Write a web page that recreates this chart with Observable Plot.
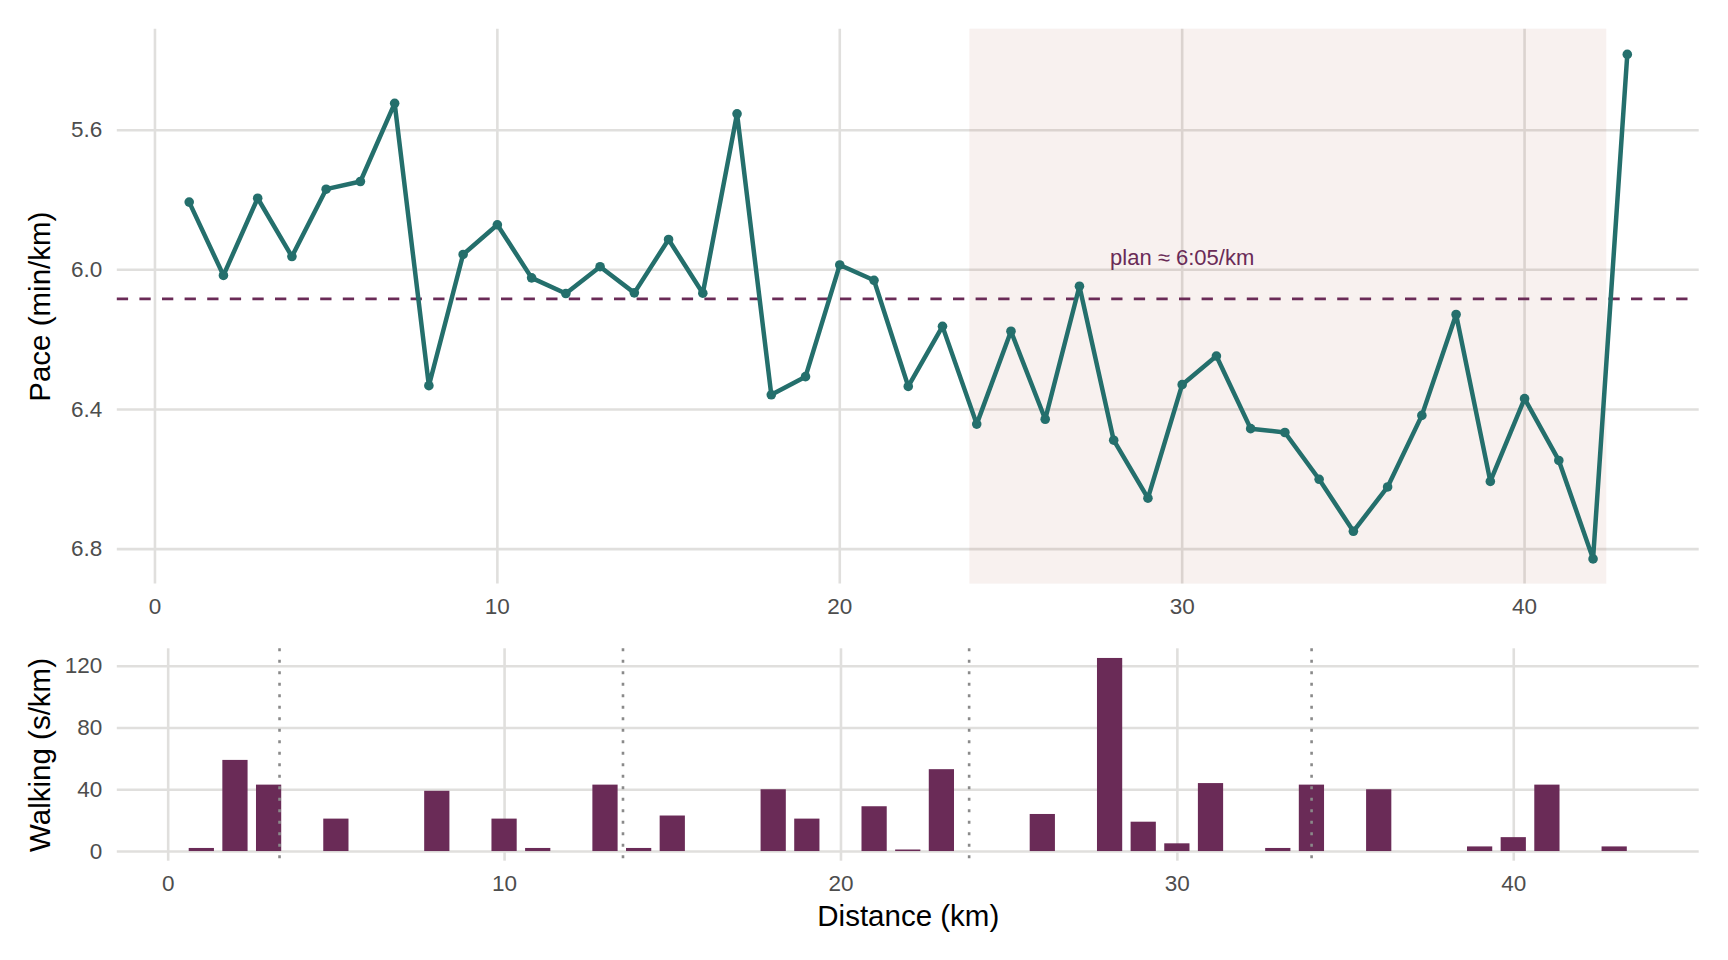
<!DOCTYPE html>
<html>
<head>
<meta charset="utf-8">
<script src="https://cdn.jsdelivr.net/npm/d3@7"></script>
<script src="https://cdn.jsdelivr.net/npm/@observablehq/plot@0.6"></script>
<style>
  html, body { margin: 0; padding: 0; background: #ffffff; }
  #chart svg { display: block; }
  #chart g[aria-label="x-axis tick label"],
  #chart g[aria-label="y-axis tick label"] { font-size: 22.5px; fill: #4d4d4d; }
</style>
</head>
<body>
<div id="chart"></div>
<script>
// ---- data ----
const km = [1,2,3,4,5,6,7,8,9,10,11,12,13,14,15,16,17,18,19,20,21,22,23,24,25,26,27,28,29,30,31,32,33,34,35,36,37,38,39,40,41,42,43];
const pace = [5.806,6.016,5.795,5.962,5.769,5.747,5.523,6.332,5.956,5.871,
              6.023,6.068,5.991,6.066,5.913,6.067,5.553,6.358,6.306,5.986,
              6.030,6.334,6.162,6.442,6.176,6.428,6.047,6.488,6.654,6.329,
              6.247,6.455,6.466,6.600,6.749,6.622,6.417,6.128,6.606,6.369,
              6.546,6.828,5.383];
const walking = [2,59,43,0,21,0,0,39,0,21,
                 2,0,43,2,23,0,0,40,21,0,
                 29,1,53,0,0,24,0,125,19,5,
                 44,0,2,43,0,40,0,0,3,9,
                 43,0,3];
const planPace = 6.0833;
const planLabel = "plan ≈ 6:05/km";
const planLabelKm = 30;
const planLabelPace = 5.965;
const shadeStart = 23.8;
const shadeEnd = 42.4;
const markerKm = [3.31, 13.52, 23.81, 33.99];
const barWidthKm = 0.75;
const xTicks = [0, 10, 20, 30, 40];
const paceTicks = [5.6, 6.0, 6.4, 6.8];
const walkTicks = [0, 40, 80, 120];
const paceTitle = "Pace (min/km)";
const walkTitle = "Walking (s/km)";
const distTitle = "Distance (km)";

// ---- derived tables ----
const rows = km.map((k, i) => ({km: k, pace: pace[i], walk: walking[i]}));
function expand([a, b], f = 0.05) { const d = (b - a) * f; return [a - d, b + d]; }

const teal = "#246f6c";
const plum = "#6a2b57";
const gridColor = "#e0dfdd";
const font = "'Liberation Sans', Arial, Helvetica, sans-serif";
const tickFont = 22.5;
const titleFont = 29.5;

const topDomainX = expand(d3.extent(km));
const topDomainY = expand(d3.extent(pace));
const botDomainX = expand([d3.min(km) - barWidthKm / 2, d3.max(km) + barWidthKm / 2]);
const botDomainY = expand([0, d3.max(walking)]);

const paceChart = Plot.plot({
  width: 1728,
  height: 630,
  marginTop: 28.7,
  marginBottom: 46.4,
  marginLeft: 116.8,
  marginRight: 29.3,
  style: {fontFamily: font, fontSize: tickFont + "px", color: "#4d4d4d", background: "transparent"},
  x: {domain: topDomainX, ticks: xTicks},
  y: {domain: topDomainY, reverse: true, ticks: paceTicks},
  marks: [
    Plot.gridX(xTicks, {stroke: gridColor, strokeOpacity: 1, strokeWidth: 2.6}),
    Plot.gridY(paceTicks, {stroke: gridColor, strokeOpacity: 1, strokeWidth: 2.6}),
    Plot.rect([{a: shadeStart, b: shadeEnd}], {x1: "a", x2: "b", fill: "#a0522d", fillOpacity: 0.08}),
    Plot.ruleY([planPace], {stroke: plum, strokeWidth: 2.8, strokeDasharray: "11.3,11.3"}),
    Plot.line(rows, {x: "km", y: "pace", stroke: teal, strokeWidth: 4.5, strokeLinejoin: "round"}),
    Plot.dot(rows, {x: "km", y: "pace", r: 4.8, fill: teal, stroke: "none"}),
    Plot.text([planLabel], {x: () => planLabelKm, y: () => planLabelPace, text: d => d, fill: plum, fontSize: 22, textAnchor: "middle", lineAnchor: "middle"}),
    Plot.axisX(xTicks, {tickSize: 0, tickPadding: 14, label: null, fontSize: tickFont}),
    Plot.axisY(paceTicks, {tickSize: 0, tickPadding: 15, label: null, fontSize: tickFont, tickFormat: d3.format(".1f")}),
    Plot.text([paceTitle], {frameAnchor: "left", dx: -76.6, rotate: -90, text: d => d, fill: "#000000", fontSize: titleFont, textAnchor: "middle", lineAnchor: "middle"})
  ]
});

const walkChart = Plot.plot({
  width: 1728,
  height: 330,
  marginTop: 18.3,
  marginBottom: 99.3,
  marginLeft: 116.8,
  marginRight: 29.3,
  style: {fontFamily: font, fontSize: tickFont + "px", color: "#4d4d4d", background: "transparent"},
  x: {domain: botDomainX, ticks: xTicks},
  y: {domain: botDomainY, ticks: walkTicks},
  marks: [
    Plot.gridX(xTicks, {stroke: gridColor, strokeOpacity: 1, strokeWidth: 2.6}),
    Plot.gridY(walkTicks, {stroke: gridColor, strokeOpacity: 1, strokeWidth: 2.6}),
    Plot.rectY(rows, {x1: d => d.km - barWidthKm / 2, x2: d => d.km + barWidthKm / 2, y1: () => 0, y2: "walk", fill: plum}),
    Plot.ruleX(markerKm, {stroke: "#8a8a8a", strokeWidth: 2.6, strokeDasharray: "2.9,8.6"}),
    Plot.axisX(xTicks, {tickSize: 0, tickPadding: 14, label: null, fontSize: tickFont}),
    Plot.axisY(walkTicks, {tickSize: 0, tickPadding: 15, label: null, fontSize: tickFont}),
    Plot.text([walkTitle], {frameAnchor: "left", dx: -76.6, rotate: -90, text: d => d, fill: "#000000", fontSize: titleFont, textAnchor: "middle", lineAnchor: "middle"}),
    Plot.text([distTitle], {frameAnchor: "bottom", dy: 55, text: d => d, fill: "#000000", fontSize: titleFont, textAnchor: "middle", lineAnchor: "middle"})
  ]
});

document.getElementById("chart").append(paceChart, walkChart);
</script>
</body>
</html>
